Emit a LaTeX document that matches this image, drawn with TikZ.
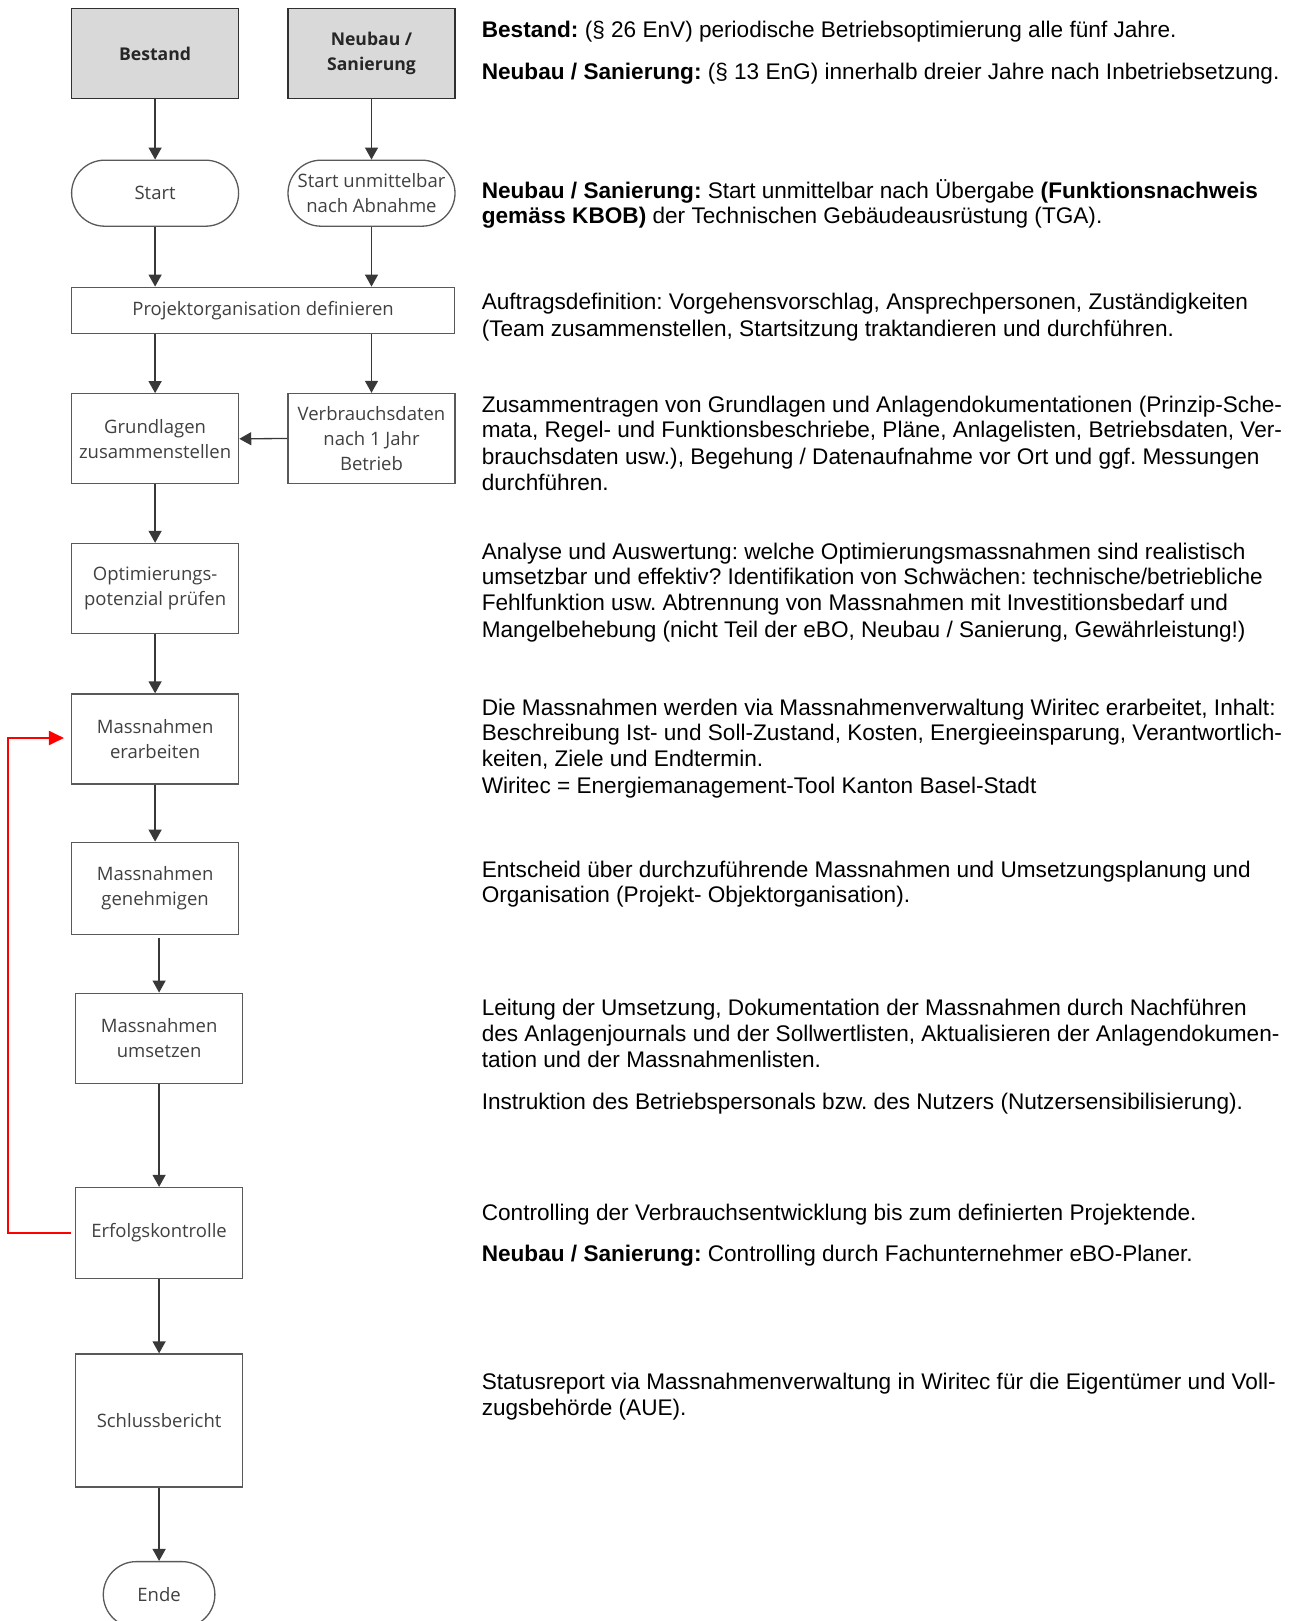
\documentclass[tikz,border=0pt]{standalone}
\usepackage{fontspec}
\setmainfont{Liberation Sans}
\newfontfamily\flowfont{Open Sans}
\usetikzlibrary{arrows.meta}
\frenchspacing

\definecolor{boxline}{HTML}{595959}
\definecolor{headline}{HTML}{303030}
\definecolor{headfill}{HTML}{D9D9D9}
\definecolor{flowtext}{HTML}{404040}
\definecolor{arrowgray}{HTML}{383838}
\definecolor{backred}{HTML}{FF0000}

\tikzset{
    box/.style={draw=boxline, line width=1.3pt, minimum width=167pt, minimum height=90pt,
        align=center, text=flowtext, inner sep=1pt,
        font=\flowfont\fontsize{18.5}{25}\selectfont},
    head/.style={box, fill=headfill, draw=headline, text=black!85,
        font=\flowfont\bfseries\fontsize{17.6}{25}\selectfont},
    term/.style={box, rounded corners=33pt, minimum height=66pt},
    flow/.style={draw=arrowgray, line width=1.3pt, -{Triangle[length=12pt,width=13pt]}},
    back/.style={draw=backred, line width=2pt, -{Triangle[length=15pt,width=14pt]}},
    txt/.style={anchor=base west, inner sep=0pt, font=\fontsize{22.6}{26}\selectfont},
}

\begin{document}
\begin{tikzpicture}[x=1pt, y=1pt]
    \useasboundingbox (0,0) rectangle (1296,-1621);

    % flow chart
    \node[head] (bestand) at (155.1,-53.8) {Bestand};
    \node[head] (neubau) at (371.5,-53.8) {Neubau /\\Sanierung};
    \node[term] (start) at (155.1,-193.2) {Start};
    \node[term] (startnb) at (371.5,-193.2) {Start unmittelbar\\nach Abnahme};
    \node[box, minimum width=383pt, minimum height=46.5pt] (projekt) at (263.1,-310.5) {Projektorganisation definieren};
    \node[box] (grundlagen) at (155.1,-438.8) {Grundlagen\\zusammenstellen};
    \node[box] (verbrauch) at (371.5,-438.5) {Verbrauchsdaten\\nach 1 Jahr\\Betrieb};
    \node[box] (optim) at (155.1,-588.5) {Optimierungs-\\potenzial prüfen};
    \node[box] (erarbeiten) at (155.1,-739) {Massnahmen\\erarbeiten};
    \node[box, minimum height=92pt] (genehmigen) at (155.1,-888.3) {Massnahmen\\genehmigen};
    \node[box] (umsetzen) at (159.1,-1038.2) {Massnahmen\\umsetzen};
    \node[box, minimum height=91pt] (erfolg) at (159.1,-1233) {Erfolgskontrolle};
    \node[box, minimum height=133pt] (schluss) at (159.1,-1420.5) {Schlussbericht};
    \node[term, minimum width=111.6pt] (ende) at (159.1,-1594.6) {Ende};

    \path[flow] (bestand.south) -- (start.north);
    \path[flow] (neubau.south) -- (startnb.north);
    \path[flow] (start.south) -- (start.south |- projekt.north);
    \path[flow] (startnb.south) -- (startnb.south |- projekt.north);
    \path[flow] (projekt.south -| grundlagen.north) -- (grundlagen.north);
    \path[flow] (projekt.south -| verbrauch.north) -- (verbrauch.north);
    \path[flow] (verbrauch.west) -- (grundlagen.east);
    \path[flow] (grundlagen.south) -- (optim.north);
    \path[flow] (optim.south) -- (erarbeiten.north);
    \path[flow] (erarbeiten.south) -- (genehmigen.north);
    \path[flow, shorten <=3pt] (umsetzen.north |- genehmigen.south) -- (umsetzen.north);
    \path[flow] (umsetzen.south) -- (erfolg.north);
    \path[flow] (erfolg.south) -- (schluss.north);
    \path[flow] (schluss.south) -- (ende.north);

    % loop back
    \coordinate (loopbot) at (8.3,-1233);
    \coordinate (looptop) at (8.3,-738);
    \draw[back, shorten <=4pt, shorten >=7pt] (erfolg.west) -- (loopbot) -- (looptop) -- (looptop -| erarbeiten.west);

    % descriptions
    \node[txt] (d1a) at (481.6,-37.1) {\textbf{Bestand:} (§ 26 EnV) periodische Betriebsoptimierung alle fünf Jahre.};
    \node[txt] (d1b) at (481.6,-79.2) {\textbf{Neubau / Sanierung:} (§ 13 EnG) innerhalb dreier Jahre nach Inbetriebsetzung.};
    \node[txt] (d2a) at (481.6,-198.1) {\textbf{Neubau / Sanierung:} Start unmittelbar nach Übergabe \textbf{(Funktionsnachweis}};
    \node[txt] (d2b) at (481.6,-223.9) {\textbf{gemäss KBOB)} der Technischen Gebäudeausrüstung (TGA).};
    \node[txt] (d3a) at (481.6,-309.7) {Auftragsdefinition: Vorgehensvorschlag, Ansprechpersonen, Zuständigkeiten};
    \node[txt] (d3b) at (481.6,-336.5) {(Team zusammenstellen, Startsitzung traktandieren und durchführen.};
    \foreach \y/\t [count=\i] in {
        412.0/{Zusammentragen von Grundlagen und Anlagendokumentationen (Prinzip-Sche-},
        437.8/{mata, Regel- und Funktionsbeschriebe, Pläne, Anlagelisten, Betriebsdaten, Ver-},
        464.7/{brauchsdaten usw.), Begehung / Datenaufnahme vor Ort und ggf. Messungen},
        490.5/{durchführen.}}{
        \node[txt] (d4\i) at (481.6,-\y) {\t};
    }
    \foreach \y/\t [count=\i] in {
        559.8/{Analyse und Auswertung: welche Optimierungsmassnahmen sind realistisch},
        584.6/{umsetzbar und effektiv? Identifikation von Schwächen: technische/betriebliche},
        610.4/{Fehlfunktion usw. Abtrennung von Massnahmen mit Investitionsbedarf und},
        637.3/{Mangelbehebung (nicht Teil der eBO, Neubau / Sanierung, Gewährleistung!)}}{
        \node[txt] (d5\i) at (481.6,-\y) {\t};
    }
    \foreach \y/\t [count=\i] in {
        715.9/{Die Massnahmen werden via Massnahmenverwaltung Wiritec erarbeitet, Inhalt:},
        740.7/{Beschreibung Ist- und Soll-Zustand, Kosten, Energieeinsparung, Verantwortlich-},
        766.5/{keiten, Ziele und Endtermin.},
        793.4/{Wiritec = Energiemanagement-Tool Kanton Basel-Stadt}}{
        \node[txt] (d6\i) at (481.6,-\y) {\t};
    }
    \node[txt] (d7a) at (481.6,-877.1) {Entscheid über durchzuführende Massnahmen und Umsetzungsplanung und};
    \node[txt] (d7b) at (481.6,-902.9) {Organisation (Projekt- Objektorganisation).};
    \foreach \y/\t [count=\i] in {
        1015.6/{Leitung der Umsetzung, Dokumentation der Massnahmen durch Nachführen},
        1041.4/{des Anlagenjournals und der Sollwertlisten, Aktualisieren der Anlagendokumen-},
        1067.2/{tation und der Massnahmenlisten.},
        1109.6/{Instruktion des Betriebspersonals bzw. des Nutzers (Nutzersensibilisierung).}}{
        \node[txt] (d8\i) at (481.6,-\y) {\t};
    }
    \node[txt] (d9a) at (481.6,-1220.2) {Controlling der Verbrauchsentwicklung bis zum definierten Projektende.};
    \node[txt] (d9b) at (481.6,-1261.5) {\textbf{Neubau / Sanierung:} Controlling durch Fachunternehmer eBO-Planer.};
    \node[txt] (d10a) at (481.6,-1389.7) {Statusreport via Massnahmenverwaltung in Wiritec für die Eigentümer und Voll-};
    \node[txt] (d10b) at (481.6,-1415.5) {zugsbehörde (AUE).};
\end{tikzpicture}
\end{document}
